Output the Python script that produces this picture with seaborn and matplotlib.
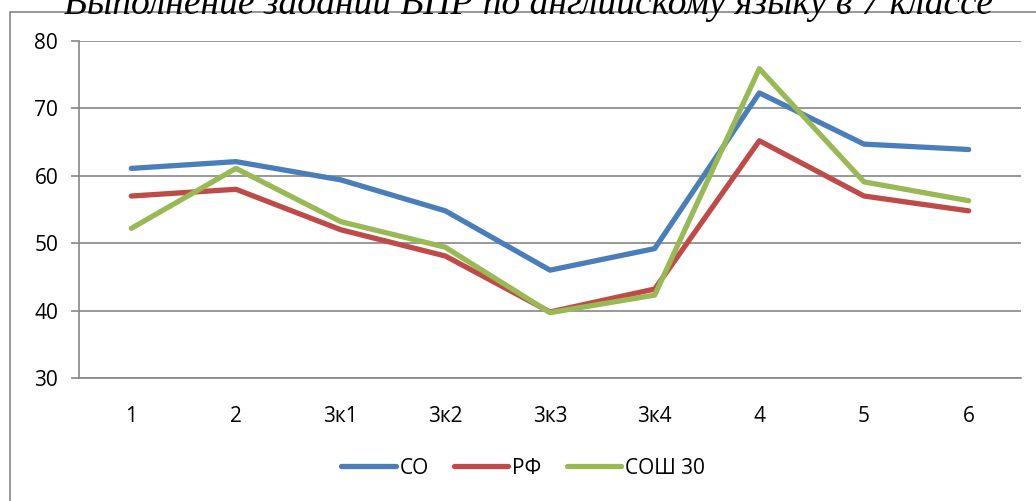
import numpy as np
import pandas as pd
import matplotlib
matplotlib.use("Agg")
import matplotlib.pyplot as plt
from matplotlib.patches import Rectangle
import seaborn as sns

# --- data ---
categories = ["1", "2", "3к1", "3к2", "3к3", "3к4", "4", "5", "6"]
so_vals = [61.1, 62.1, 59.4, 54.8, 46.0, 49.2, 72.3, 64.7, 63.9]
rf_vals = [57.0, 58.0, 52.0, 48.1, 39.8, 43.2, 65.2, 57.0, 54.8]
school_vals = [52.2, 61.1, 53.2, 49.4, 39.7, 42.3, 75.9, 59.1, 56.3]
series_names = ["СО", "РФ", "СОШ 30"]
title_text = "Выполнение заданий ВПР по английскому языку в 7 классе"

df = pd.DataFrame({
    "cat": categories * 3,
    "value": so_vals + rf_vals + school_vals,
    "series": [series_names[0]] * 9 + [series_names[1]] * 9 + [series_names[2]] * 9,
})

palette = {"СО": "#4A7EBB", "РФ": "#BE4B48", "СОШ 30": "#98B954"}
grid_col = "#868686"

sns.set_style("white")
plt.rcParams["font.family"] = ["Open Sans", "DejaVu Sans"]
plt.rcParams["text.color"] = "black"
plt.rcParams["xtick.labelcolor"] = "black"
plt.rcParams["ytick.labelcolor"] = "black"

fig = plt.figure(figsize=(10.36, 5.01), dpi=100)
ax = fig.add_axes([79 / 1036, 1 - 378 / 501, 942 / 1036, 337 / 501])

sns.lineplot(data=df, x="cat", y="value", hue="series", palette=palette,
             sort=False, linewidth=3.8, ax=ax, legend=True)
for ln in ax.get_lines():
    ln.set_solid_capstyle("round")
    ln.set_solid_joinstyle("round")

ax.set_xlim(-0.5, len(categories) - 0.5)
ax.set_ylim(30, 80)
ax.set_yticks([30, 40, 50, 60, 70, 80])
ax.yaxis.grid(True, color=grid_col, linewidth=1.2)
ax.set_axisbelow(True)
ax.set_xlabel("")
ax.set_ylabel("")

for side in ["top", "right"]:
    ax.spines[side].set_visible(False)
for side in ["left", "bottom"]:
    ax.spines[side].set_color(grid_col)
    ax.spines[side].set_linewidth(1.2)

# category boundary ticks on x, outside ticks on y
ax.set_xticks(np.arange(-0.5, len(categories), 1.0), minor=True)
ax.tick_params(axis="x", which="major", length=0, pad=20, labelsize=15)
ax.tick_params(axis="x", which="minor", length=6, width=1.2, color=grid_col, direction="out")
ax.tick_params(axis="y", which="major", length=6, width=1.2, color=grid_col,
               direction="out", pad=9, labelsize=15, left=True)

# legend under the plot
handles, labels = ax.get_legend_handles_labels()
ax.legend_.remove()
leg = fig.legend(handles, labels, loc="center", bbox_to_anchor=(0.505, 1 - 468 / 501),
                 ncol=3, frameon=False, fontsize=15, handlelength=2.6,
                 handletextpad=0.2, columnspacing=1.2)
for h in leg.get_lines():
    h.set_linewidth(3.8)
    h.set_solid_capstyle("round")

# outer chart frame (cut at right and bottom)
fig.patches.append(Rectangle((10 / 1036, -0.1), 1.2, 1 - 12 / 501 + 0.1,
                             transform=fig.transFigure, fill=False,
                             edgecolor=grid_col, linewidth=1.2))

# title, mostly cut off at the top edge
fig.text(0.5 + 10 / 1036, 1 - 14 / 501, title_text, ha="center", va="baseline",
         family=["Liberation Serif", "DejaVu Serif"], style="italic", fontsize=27)

fig.savefig("out.png", dpi=100)
